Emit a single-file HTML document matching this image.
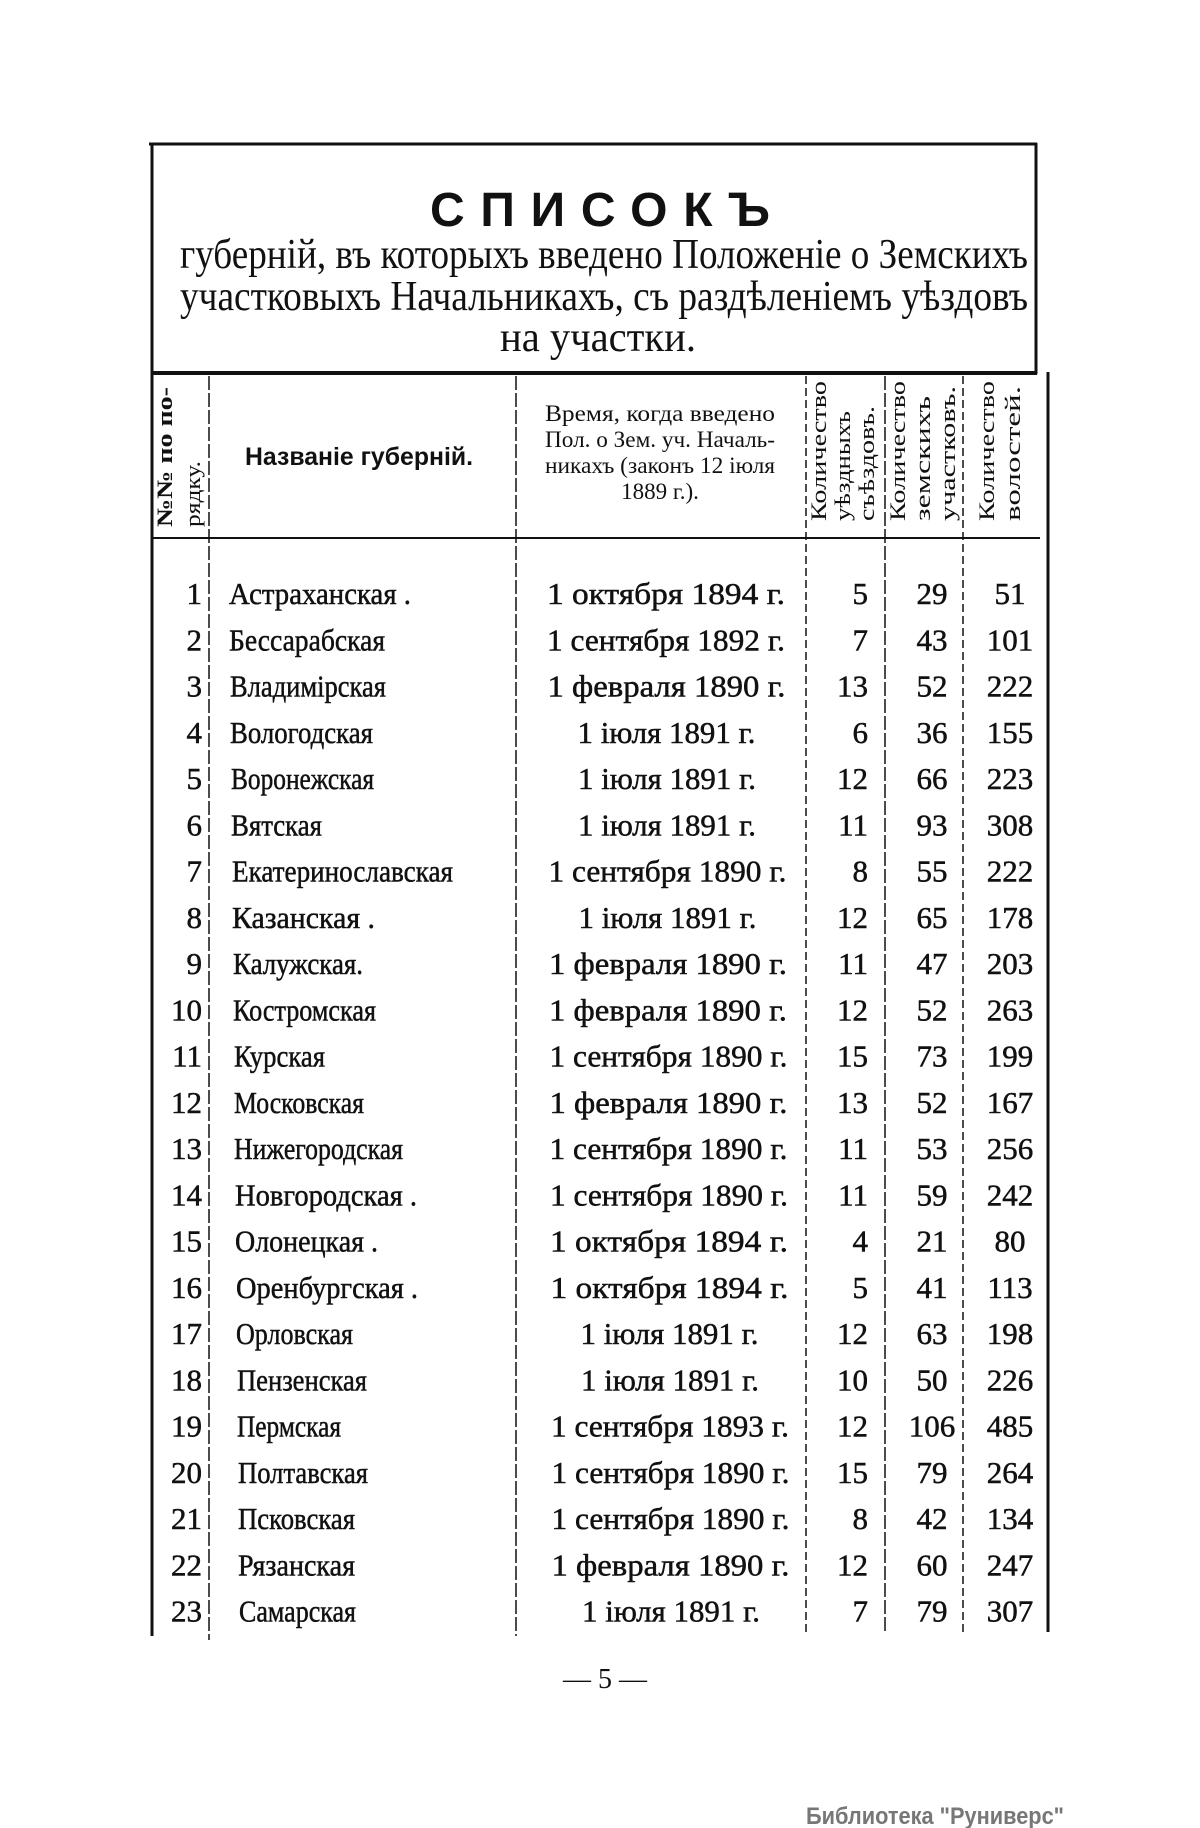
<!DOCTYPE html>
<html><head><meta charset="utf-8"><style>
html,body{margin:0;padding:0;background:#fff;}
svg{display:block;}
text{font-family:"Liberation Serif",serif;fill:#111;}
.s{font-family:"Liberation Sans",sans-serif;}
#rows text{stroke:#111;stroke-width:0.5;}
</style></head><body>
<svg width="1200" height="1828" viewBox="0 0 1200 1828" xmlns="http://www.w3.org/2000/svg">
<g stroke="#111" fill="none">
<line x1="149" y1="144" x2="1037" y2="144" stroke-width="3"/>
<line x1="152" y1="143" x2="152" y2="1636" stroke-width="3"/>
<line x1="1036" y1="143" x2="1036" y2="374" stroke-width="3"/>
<line x1="1048" y1="372" x2="1048" y2="1632" stroke-width="3"/>
<line x1="152" y1="373" x2="1037" y2="373" stroke-width="4"/>
<line x1="152" y1="538" x2="1040" y2="538" stroke-width="2"/>
<line x1="209" y1="376" x2="209" y2="1640" stroke-width="1.5" stroke-dasharray="14 3"/>
<line x1="516" y1="376" x2="516" y2="1636" stroke-width="1.5" stroke-dasharray="14 3"/>
<line x1="806" y1="376" x2="806" y2="1632" stroke-width="1.5" stroke-dasharray="8 4"/>
<line x1="885" y1="376" x2="885" y2="1632" stroke-width="1.5" stroke-dasharray="14 3"/>
<line x1="963" y1="376" x2="963" y2="1632" stroke-width="1.5" stroke-dasharray="8 4"/>
</g>
<text class="s" x="600" y="226" font-size="48" font-weight="bold" text-anchor="middle" textLength="340" lengthAdjust="spacing">СПИСОКЪ</text>
<text x="604" y="268" font-size="42" text-anchor="middle" textLength="848" lengthAdjust="spacingAndGlyphs">губерній, въ которыхъ введено Положеніе о Земскихъ</text>
<text x="604" y="310" font-size="42" text-anchor="middle" textLength="848" lengthAdjust="spacingAndGlyphs">участковыхъ Начальникахъ, съ раздѣленіемъ уѣздовъ</text>
<text x="598" y="351" font-size="42" text-anchor="middle" textLength="196" lengthAdjust="spacingAndGlyphs">на участки.</text>
<text class="s" x="359" y="465" font-size="25" font-weight="bold" text-anchor="middle" textLength="228" lengthAdjust="spacingAndGlyphs">Названіе губерній.</text>
<g font-size="23" text-anchor="middle">
<text x="660" y="421" textLength="230" lengthAdjust="spacingAndGlyphs">Время, когда введено</text>
<text x="660" y="447" textLength="230" lengthAdjust="spacingAndGlyphs">Пол. о Зем. уч. Началь-</text>
<text x="660" y="473" textLength="230" lengthAdjust="spacingAndGlyphs">никахъ (законъ 12 іюля</text>
<text x="660" y="499">1889 г.).</text>
</g>
<g font-size="22">
<text transform="translate(172,527) rotate(-90)" font-weight="bold" textLength="140" lengthAdjust="spacingAndGlyphs">№№ по по-</text>
<text transform="translate(200,527) rotate(-90)" textLength="66" lengthAdjust="spacingAndGlyphs">рядку.</text>
<text transform="translate(826,521) rotate(-90)" textLength="140" lengthAdjust="spacingAndGlyphs">Количество</text>
<text transform="translate(850,521) rotate(-90)" textLength="110" lengthAdjust="spacingAndGlyphs">уѣздныхъ</text>
<text transform="translate(874,521) rotate(-90)" textLength="115" lengthAdjust="spacingAndGlyphs">съѣздовъ.</text>
<text transform="translate(905,521) rotate(-90)" textLength="140" lengthAdjust="spacingAndGlyphs">Количество</text>
<text transform="translate(930,521) rotate(-90)" textLength="125" lengthAdjust="spacingAndGlyphs">земскихъ</text>
<text transform="translate(955,521) rotate(-90)" textLength="135" lengthAdjust="spacingAndGlyphs">участковъ.</text>
<text transform="translate(994,521) rotate(-90)" textLength="140" lengthAdjust="spacingAndGlyphs">Количество</text>
<text transform="translate(1020,521) rotate(-90)" textLength="135" lengthAdjust="spacingAndGlyphs">волостей.</text>
</g>
<g font-size="31" id="rows"></g>
<text x="605" y="1688" font-size="28" text-anchor="middle">— 5 —</text>
<text class="s" x="935" y="1824" font-size="24" style="fill:#777" text-anchor="middle" font-weight="bold" textLength="258" lengthAdjust="spacingAndGlyphs">Библиотека "Руниверс"</text>
</svg>
<script>
var d=[["Астраханская .","1 октября 1894 г.",5,29,51],["Бессарабская","1 сентября 1892 г.",7,43,101],["Владимірская","1 февраля 1890 г.",13,52,222],["Вологодская","1 іюля 1891 г.",6,36,155],["Воронежская","1 іюля 1891 г.",12,66,223],["Вятская","1 іюля 1891 г.",11,93,308],["Екатеринославская","1 сентября 1890 г.",8,55,222],["Казанская .","1 іюля 1891 г.",12,65,178],["Калужская.","1 февраля 1890 г.",11,47,203],["Костромская","1 февраля 1890 г.",12,52,263],["Курская","1 сентября 1890 г.",15,73,199],["Московская","1 февраля 1890 г.",13,52,167],["Нижегородская","1 сентября 1890 г.",11,53,256],["Новгородская .","1 сентября 1890 г.",11,59,242],["Олонецкая .","1 октября 1894 г.",4,21,80],["Оренбургская .","1 октября 1894 г.",5,41,113],["Орловская","1 іюля 1891 г.",12,63,198],["Пензенская","1 іюля 1891 г.",10,50,226],["Пермская","1 сентября 1893 г.",12,106,485],["Полтавская","1 сентября 1890 г.",15,79,264],["Псковская","1 сентября 1890 г.",8,42,134],["Рязанская","1 февраля 1890 г.",12,60,247],["Самарская","1 іюля 1891 г.",7,79,307]];
var g=document.getElementById("rows"),h="";
function t(x,y,s,a,extra){return '<text x="'+x+'" y="'+y+'" text-anchor="'+a+'"'+(extra||'')+'>'+s+'</text>';}
d.forEach(function(r,i){var y=604+i*46.25,sh=Math.round(i*0.45);
h+=t(202,y,i+1,"end");
h+=t(229+sh,y,r[0],"start",' textLength="'+Math.round(r[0].length*13)+'" lengthAdjust="spacingAndGlyphs"');
var dl=r[1].length>14?238:(r[1].length>13?220:200);
h+=t(666+sh*0.5,y,r[1],"middle",' textLength="'+(r[1].indexOf("іюля")>=0?178:dl)+'" lengthAdjust="spacingAndGlyphs"');
h+=t(868,y,r[2],"end");
h+=t(932,y,r[3],"middle");
h+=t(1010,y,r[4],"middle");});
g.innerHTML=h;
</script>
</body></html>
